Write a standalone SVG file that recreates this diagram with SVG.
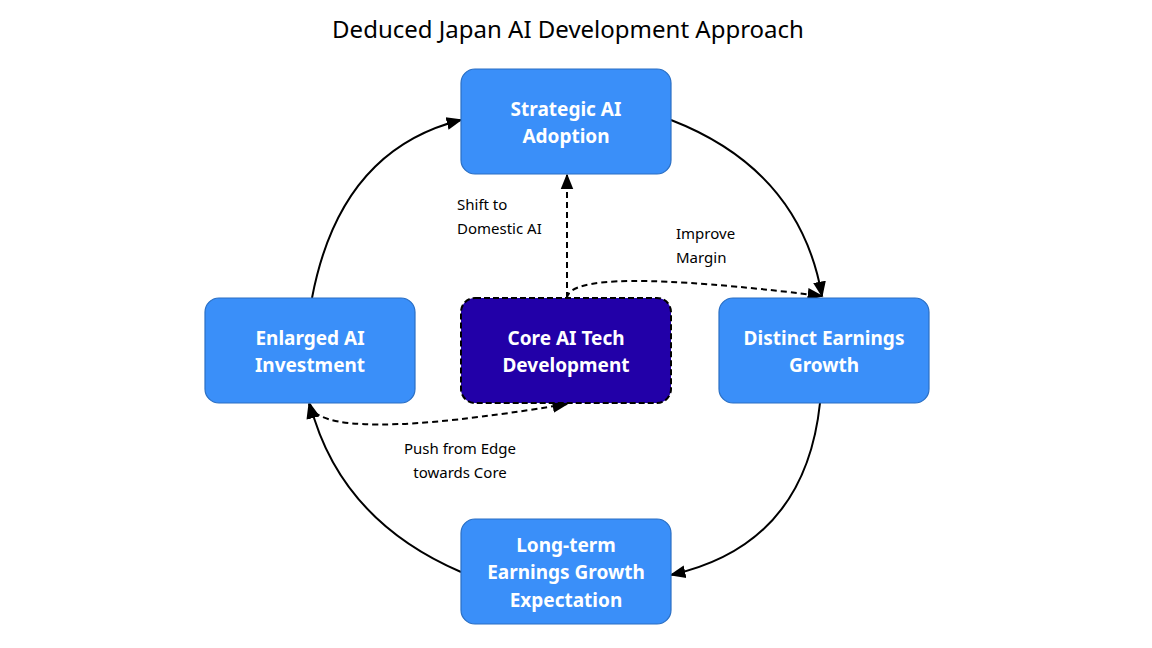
<svg xmlns="http://www.w3.org/2000/svg" width="1152" height="648" viewBox="0 0 1152 648">
<defs>
<marker id="ah" viewBox="0 0 10 10" refX="9" refY="5" markerWidth="9" markerHeight="9" markerUnits="userSpaceOnUse" orient="auto-start-reverse"><path d="M0,0 L10,5 L0,10 z" fill="#000"/></marker>
<marker id="ah2" viewBox="0 0 10 10" refX="9" refY="5" markerWidth="16" markerHeight="16" markerUnits="userSpaceOnUse" orient="auto-start-reverse"><path d="M0,1 L10,5 L0,9 z" fill="#000"/></marker>
</defs>
<style>
.n{fill:#3a8ff9;stroke:#2a6fc4;stroke-width:1.2}
.c{fill:#2200a8;stroke:#000;stroke-width:2;stroke-dasharray:6,3}
.t{font-family:"Noto Sans",sans-serif;font-weight:bold;font-size:19px;fill:#fff;text-anchor:middle}
.l{font-family:"Noto Sans",sans-serif;font-size:15px;fill:#000}
.e{fill:none;stroke:#000;stroke-width:2}
.d{fill:none;stroke:#000;stroke-width:2;stroke-dasharray:6,4}
</style>
<rect width="1152" height="648" fill="#fff"/>
<text x="568" y="38" font-family="Noto Sans,sans-serif" font-size="24" text-anchor="middle">Deduced Japan AI Development Approach</text>
<g id="connectors">
<path class="e" d="M671,120 Q800,170 822,296" marker-end="url(#ah2)"/>
<path class="e" d="M820,403 Q805,545 671,575" marker-end="url(#ah2)"/>
<path class="e" d="M461,572 Q340,520 310,404" marker-end="url(#ah2)"/>
<path class="e" d="M312,298 Q340,150 461,120" marker-end="url(#ah2)"/>
<path class="d" d="M567,298 L567,175" marker-end="url(#ah2)"/>
<path class="d" d="M567,298 Q570,265 822,296" marker-end="url(#ah2)"/>
<path class="d" d="M309,404 Q320,445 567,404" marker-start="url(#ah2)" marker-end="url(#ah2)"/>
</g>
<g id="strategic"><rect class="n" x="461" y="69" width="210" height="105" rx="14"/><text class="t" x="566" y="116">Strategic AI</text><text class="t" x="566" y="143">Adoption</text></g>
<g id="enlarged"><rect class="n" x="205" y="298" width="210" height="105" rx="14"/><text class="t" x="310" y="345">Enlarged AI</text><text class="t" x="310" y="372">Investment</text></g>
<g id="core"><rect class="c" x="461" y="298" width="210" height="105" rx="14"/><text class="t" x="566" y="345">Core AI Tech</text><text class="t" x="566" y="372">Development</text></g>
<g id="distinct"><rect class="n" x="719" y="298" width="210" height="105" rx="14"/><text class="t" x="824" y="345">Distinct Earnings</text><text class="t" x="824" y="372">Growth</text></g>
<g id="longterm"><rect class="n" x="461" y="519" width="210" height="105" rx="14"/><text class="t" x="566" y="552">Long-term</text><text class="t" x="566" y="579">Earnings Growth</text><text class="t" x="566" y="607">Expectation</text></g>
<g id="labels">
<text class="l" x="457" y="210">Shift to</text><text class="l" x="457" y="234">Domestic AI</text>
<text class="l" x="676" y="239">Improve</text><text class="l" x="676" y="263">Margin</text>
<text class="l" x="460" y="454" text-anchor="middle">Push from Edge</text><text class="l" x="460" y="478" text-anchor="middle">towards Core</text>
</g>
</svg>
